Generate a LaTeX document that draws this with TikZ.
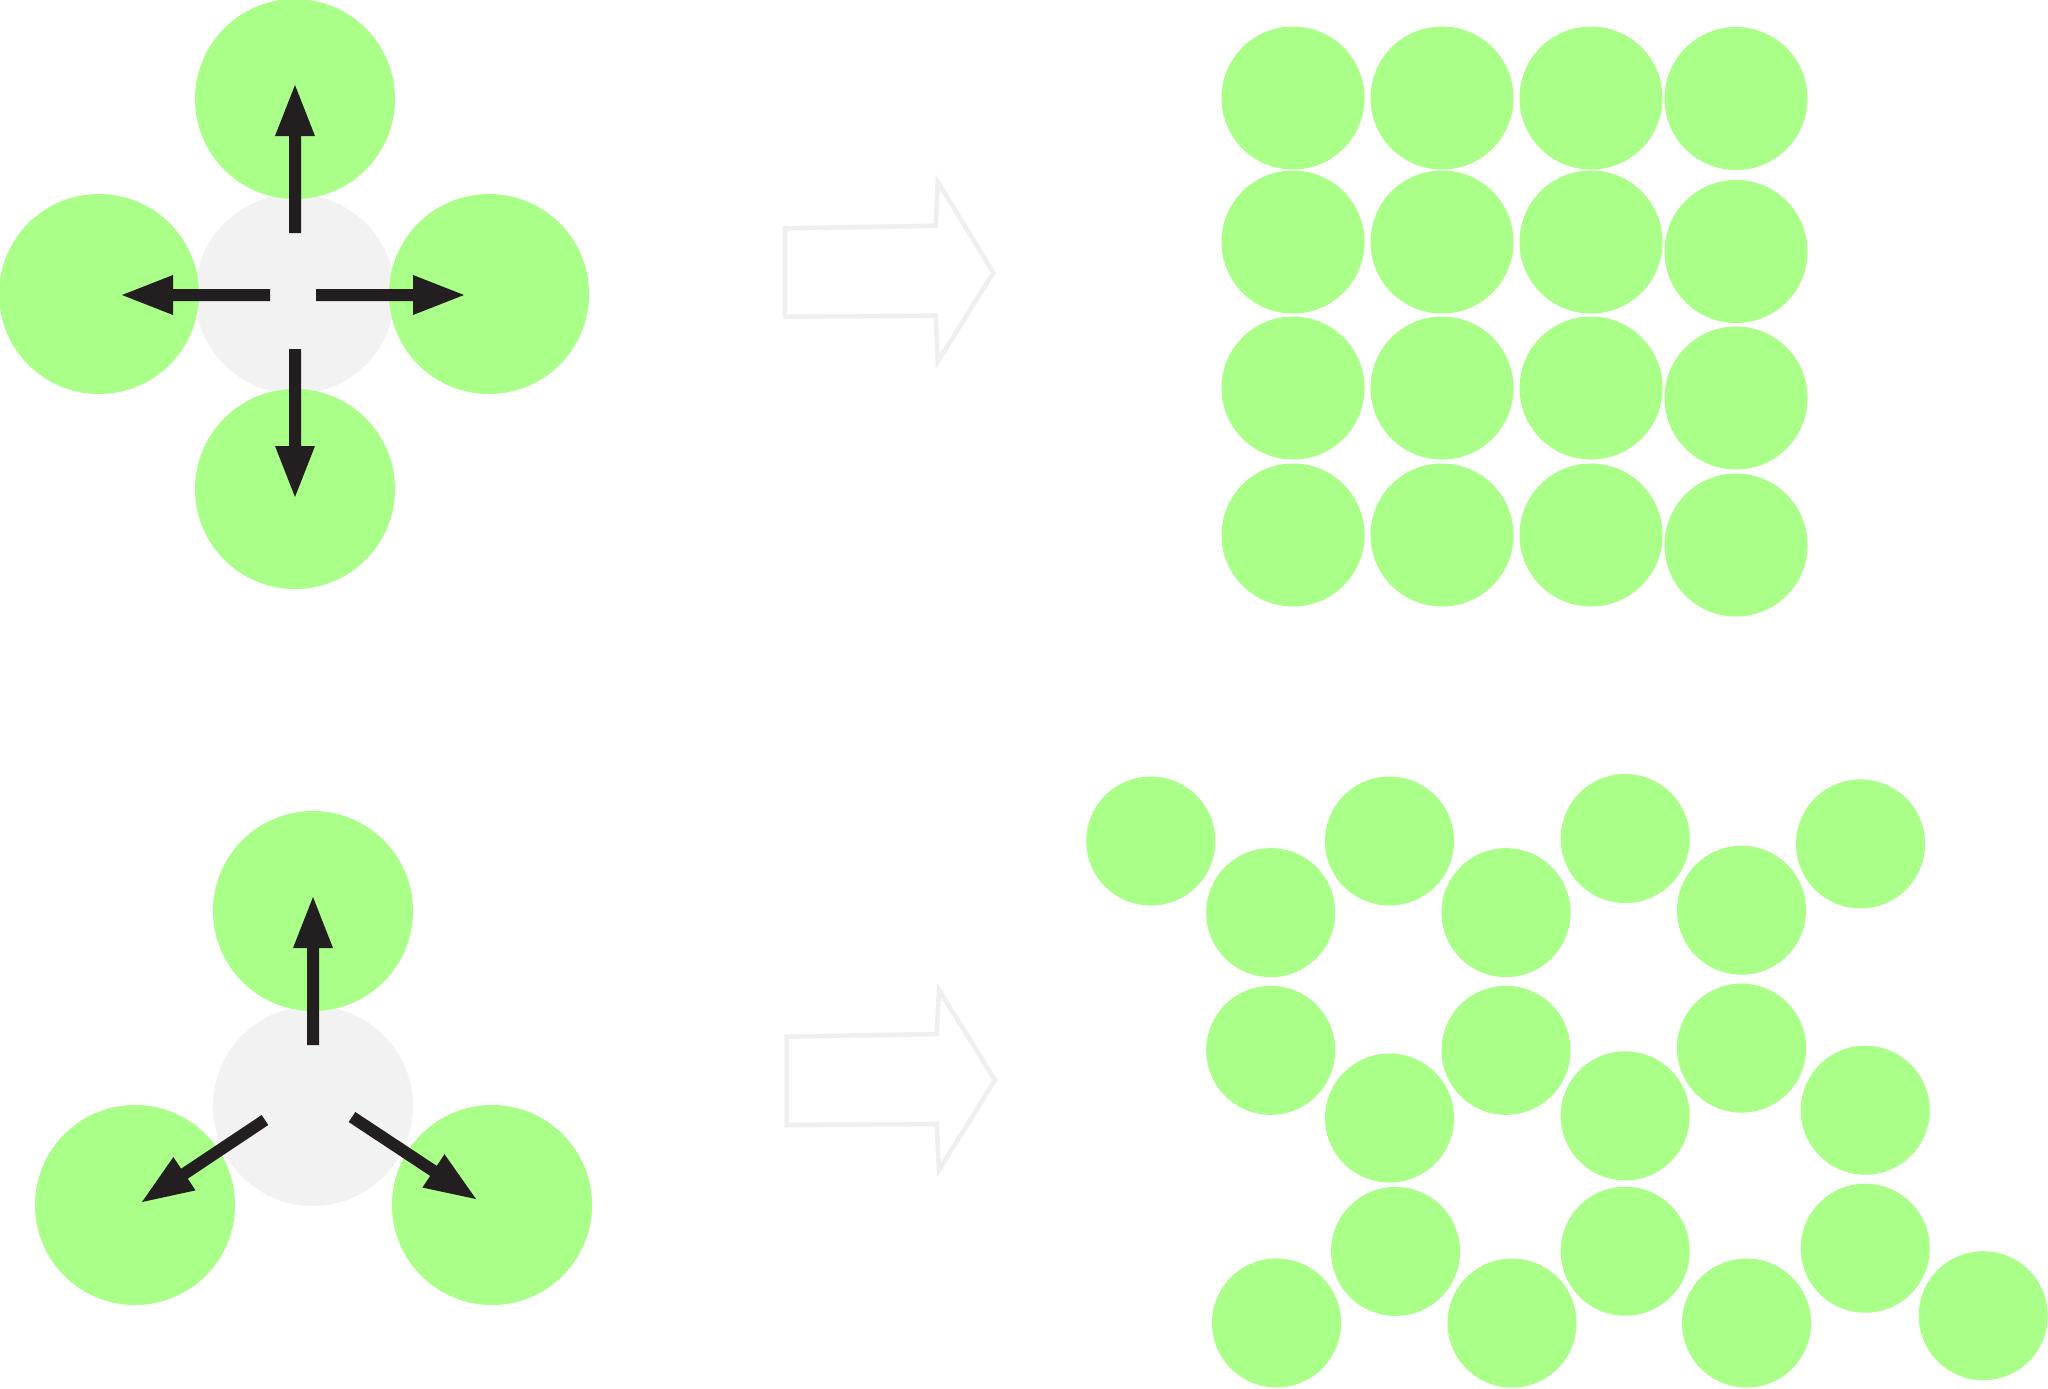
\documentclass[tikz,border=0pt]{standalone}
\usetikzlibrary{calc}
\definecolor{ballgreen}{HTML}{A9FF87}
\definecolor{ballgrey}{HTML}{F1F2F1}
\definecolor{arrowblack}{HTML}{231F20}
\definecolor{hollowgrey}{HTML}{EFEFEF}
\tikzset{
  bigball/.style={circle, fill=ballgreen, draw=none, minimum size=100pt, inner sep=0pt},
  bigvoid/.style={circle, fill=ballgrey, draw=none, minimum size=100pt, inner sep=0pt},
  gridball/.style={circle, fill=ballgreen, draw=none, minimum size=71.5pt, inner sep=0pt},
  hexball/.style={circle, fill=ballgreen, draw=none, minimum size=64.5pt, inner sep=0pt},
  push/.style={fill=arrowblack, draw=none},
  hollowarrow/.style={draw=hollowgrey, line width=2.3pt, line join=miter, fill=none}
}
% block arrow from named coordinate #1 (tail) to named coordinate #2 (tip)
\newcommand{\pusharrow}[2]{%
  \path ($(#2)!25.5pt!(#1)$) coordinate (hb-#1);
  \fill[push] ($(#1)!3pt!90:(#2)$) -- ($(hb-#1)!3pt!90:(#2)$) -- ($(hb-#1)!10pt!90:(#2)$)
    -- (#2) -- ($(hb-#1)!10pt!-90:(#2)$) -- ($(hb-#1)!3pt!-90:(#2)$)
    -- ($(#1)!3pt!-90:(#2)$) -- cycle;
}
\begin{document}
\begin{tikzpicture}[x=0.5pt, y=-0.5pt]
\useasboundingbox (0,0) rectangle (2048,1388);

% ---------- top left: square neighbourhood ----------
\node[bigvoid] (tc) at (295,294) {};
\node[bigball] (tt) at (295,99) {};
\node[bigball] (tl) at (99,294) {};
\node[bigball] (tr) at (489,294) {};
\node[bigball] (tb) at (295,489) {};
\coordinate (tts) at (295,233); \coordinate (tte) at (295,85);
\coordinate (tls) at (270,295); \coordinate (tle) at (122,295);
\coordinate (trs) at (316,295); \coordinate (tre) at (464,295);
\coordinate (tbs) at (295,349); \coordinate (tbe) at (295,497);
\pusharrow{tts}{tte}
\pusharrow{tls}{tle}
\pusharrow{trs}{tre}
\pusharrow{tbs}{tbe}

% ---------- bottom left: triangular neighbourhood ----------
\node[bigvoid] (bc) at (313,1106) {};
\node[bigball] (bt) at (313,911) {};
\node[bigball] (bl) at (135,1205) {};
\node[bigball] (br) at (492,1205) {};
\coordinate (bts) at (313,1045); \coordinate (bte) at (313,897);
\coordinate (bls) at (265,1120); \coordinate (ble) at (142,1202);
\coordinate (brs) at (352,1117); \coordinate (bre) at (476,1199);
\pusharrow{bts}{bte}
\pusharrow{bls}{ble}
\pusharrow{brs}{bre}

% ---------- hollow arrows ----------
\draw[hollowarrow] (785,228.3) -- (935.7,225.7) -- (937.7,181.7) -- (993.3,272.7)
  -- (937.7,361.7) -- (935.7,315.7) -- (785,316.7) -- cycle;
\draw[hollowarrow] (786.7,1036.7) -- (936.7,1034) -- (939,990) -- (995,1080)
  -- (939,1170) -- (936.7,1124) -- (786.7,1125) -- cycle;

% ---------- top right: square packing ----------
\node[gridball] (g11) at (1293,98) {};
\node[gridball] (g12) at (1442,98) {};
\node[gridball] (g13) at (1591,98) {};
\node[gridball] (g14) at (1736,98.5) {};
\node[gridball] (g21) at (1293,242) {};
\node[gridball] (g22) at (1442,242) {};
\node[gridball] (g23) at (1591,242) {};
\node[gridball] (g24) at (1736,251.5) {};
\node[gridball] (g31) at (1293,388) {};
\node[gridball] (g32) at (1442,388) {};
\node[gridball] (g33) at (1591,388) {};
\node[gridball] (g34) at (1736,398) {};
\node[gridball] (g41) at (1293,535) {};
\node[gridball] (g42) at (1442,535) {};
\node[gridball] (g43) at (1591,535) {};
\node[gridball] (g44) at (1736,545) {};

% ---------- bottom right: hexagonal packing ----------
\node[hexball] (h1) at (1150.8,841) {};
\node[hexball] (h2) at (1270.7,912.6) {};
\node[hexball] (h3) at (1389.5,841) {};
\node[hexball] (h4) at (1506,912.6) {};
\node[hexball] (h5) at (1625.2,838.5) {};
\node[hexball] (h6) at (1741.5,910.2) {};
\node[hexball] (h7) at (1860.5,843.9) {};
\node[hexball] (h8) at (1270.7,1050.3) {};
\node[hexball] (h9) at (1506,1050.3) {};
\node[hexball] (h10) at (1389.5,1118) {};
\node[hexball] (h11) at (1625.2,1115.8) {};
\node[hexball] (h12) at (1741.5,1048.1) {};
\node[hexball] (h13) at (1865.2,1110.2) {};
\node[hexball] (h14) at (1395.5,1251.4) {};
\node[hexball] (h15) at (1625.2,1251.2) {};
\node[hexball] (h16) at (1865.2,1248.2) {};
\node[hexball] (h17) at (1276.5,1322.9) {};
\node[hexball] (h18) at (1512,1323) {};
\node[hexball] (h19) at (1746.5,1323) {};
\node[hexball] (h20) at (1983.2,1315.7) {};
\end{tikzpicture}
\end{document}
